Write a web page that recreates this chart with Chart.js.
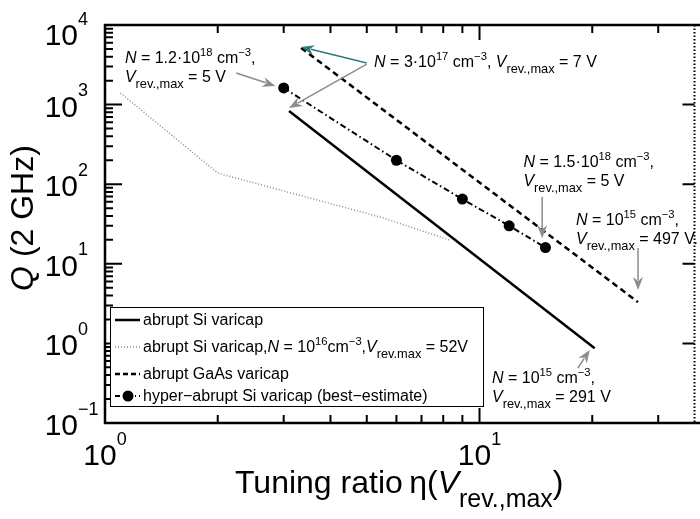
<!DOCTYPE html>
<html>
<head>
<meta charset="utf-8">
<script src="https://cdn.jsdelivr.net/npm/chart.js@4"></script>
<style>
  body { margin: 0; background: #fff; }
  canvas { display: block; }
</style>
</head>
<body>
<canvas id="qChart" width="700" height="519"></canvas>
<script>
// abrupt Si varicap (solid)
const siX = [3.1, 20.3];
const siQ = [830, 0.87];
// abrupt Si varicap, N = 1e16 cm^-3 (dotted)
const si16X = [1.1, 2.0, 5.5, 8.3];
const si16Q = [1400, 138, 38, 20];
// abrupt GaAs varicap (dashed)
const gaasX = [3.34, 26.5];
const gaasQ = [5150, 3.3];
// hyper-abrupt Si varicap (best-estimate)
const hyperX = [3, 6, 9, 12, 15];
const hyperQ = [1620, 200, 65, 30, 16];

const xDecades = [0, 1];
const yDecades = [-1, 0, 1, 2, 3, 4];
const xMinor = [2, 3, 4, 5, 6, 7, 8, 9, 20, 30];

const FONT = '"Liberation Sans", Arial, Helvetica, sans-serif';
const GREY = "#8c8c8c";
const TEAL = "#2e7b7b";

const pts = (xs, ys) => xs.map((x, i) => ({ x: x, y: ys[i] }));

// draw text runs with italic / superscript / subscript pieces
function rich(ctx, x, y, segs, size, o, measureOnly) {
  o = Object.assign({ sup: 0.7, raise: 0.42, sub: 0.8, drop: 0.38 }, o || {});
  let cx = x;
  segs.forEach(([t, k]) => {
    let fs = size, dy = 0, st = "";
    if (k === "i") st = "italic ";
    if (k === "u") { fs = size * o.sup; dy = -size * o.raise; }
    if (k === "d") { fs = size * o.sub; dy = size * o.drop; }
    ctx.font = st + fs + "px " + FONT;
    if (!measureOnly) ctx.fillText(t, cx, y + dy);
    cx += ctx.measureText(t).width;
  });
  return cx - x;
}

function arrow(ctx, x1, y1, x2, y2, color) {
  const a = Math.atan2(y2 - y1, x2 - x1);
  const L = 13, W = 5;
  ctx.save();
  ctx.strokeStyle = color;
  ctx.fillStyle = color;
  ctx.lineWidth = 1.5;
  ctx.setLineDash([]);
  ctx.beginPath();
  ctx.moveTo(x1, y1);
  ctx.lineTo(x2 - Math.cos(a) * (L - 3), y2 - Math.sin(a) * (L - 3));
  ctx.stroke();
  ctx.translate(x2, y2);
  ctx.rotate(a);
  ctx.beginPath();
  ctx.moveTo(0, 0);
  ctx.lineTo(-L, -W);
  ctx.lineTo(-L + 4, 0);
  ctx.lineTo(-L, W);
  ctx.closePath();
  ctx.fill();
  ctx.restore();
}

const Nline = (n, e) => [["N", "i"], [" = " + n + "10", "n"], [e, "u"], [" cm", "n"], ["\u22123", "u"], [",", "n"]];
const Vline = (v) => [["V", "i"], ["rev.,max", "d"], [" = " + v, "n"]];

// annotations: text anchor and arrows in data coordinates
const notes = [
  { x: 1.13, y: 3335, lines: [Nline("1.2\u00b7", "18"), Vline("5 V")] },
  { x: 5.23, y: 2965, lines: [Nline("3\u00b7", "17").slice(0, 5).concat([[", ", "n"], ["V", "i"], ["rev.,max", "d"], [" = 7 V", "n"]])] },
  { x: 13.1, y: 164, lines: [Nline("1.5\u00b7", "18"), Vline("5 V")] },
  { x: 18.1, y: 30.7, lines: [Nline("", "15"), Vline("497 V.")] },
  { x: 10.8, y: 0.318, lines: [Nline("", "15"), Vline("291 V")] }
];
const arrows = [
  [2.24, 2495, 2.85, 1714, GREY],
  [5.0, 3335, 3.34, 5295, TEAL],
  [5.0, 3220, 3.1, 906, GREY],
  [14.7, 69, 14.7, 21, GREY],
  [26.5, 15.8, 26.5, 4.69, GREY],
  [18.3, 0.491, 19.7, 0.826, GREY]
];

const legendItems = [
  { segs: [["abrupt Si varicap", "n"]], color: "#000", width: 2.5, dash: [] },
  { segs: [["abrupt Si varicap,", "n"], ["N", "i"], [" = 10", "n"], ["16", "u"], ["cm", "n"], ["\u22123", "u"], [",", "n"], ["V", "i"], ["rev.max", "d"], [" = 52V", "n"]], color: GREY, width: 1.5, dash: [1, 2] },
  { segs: [["abrupt GaAs varicap", "n"]], color: "#000", width: 2.5, dash: [5, 3] },
  { segs: [["hyper\u2212abrupt Si varicap (best\u2212estimate)", "n"]], color: "#000", width: 2, dash: [5, 3, 1, 3], marker: true }
];

const decorations = {
  id: "decorations",
  afterDraw(chart) {
    const ctx = chart.ctx;
    const { left, right, top, bottom } = chart.chartArea;
    const xs = chart.scales.x, ys = chart.scales.y;
    ctx.save();
    ctx.fillStyle = "#000";
    ctx.strokeStyle = "#000";
    ctx.textBaseline = "alphabetic";
    ctx.textAlign = "left";

    // ticks
    ctx.lineWidth = 2;
    ctx.beginPath();
    xDecades.forEach(e => {
      const px = xs.getPixelForValue(Math.pow(10, e));
      if (px <= left + 1) return;
      ctx.moveTo(px, bottom); ctx.lineTo(px, bottom - 15);
      ctx.moveTo(px, top); ctx.lineTo(px, top + 15);
    });
    xMinor.forEach(v => {
      const px = xs.getPixelForValue(v);
      ctx.moveTo(px, bottom); ctx.lineTo(px, bottom - 8);
      ctx.moveTo(px, top); ctx.lineTo(px, top + 8);
    });
    yDecades.forEach(e => {
      const py = ys.getPixelForValue(Math.pow(10, e));
      ctx.moveTo(left, py); ctx.lineTo(left + 17, py);
      if (e < 4) {
        for (let m = 2; m <= 9; m++) {
          const pm = ys.getPixelForValue(m * Math.pow(10, e));
          ctx.moveTo(left, pm); ctx.lineTo(left + 8, pm);
        }
      }
      if (py > top + 2 && py < bottom - 2) {
        ctx.moveTo(right, py); ctx.lineTo(right - 12, py);
      }
    });
    ctx.stroke();

    // right axis (dotted, cut by the image edge)
    ctx.lineWidth = 2;
    ctx.setLineDash([1.5, 2]);
    ctx.beginPath();
    ctx.moveTo(right, top); ctx.lineTo(right, bottom);
    ctx.stroke();
    ctx.setLineDash([]);

    // frame
    ctx.lineWidth = 2.5;
    ctx.beginPath();
    ctx.moveTo(chart.width, top); ctx.lineTo(left, top);
    ctx.lineTo(left, bottom); ctx.lineTo(chart.width, bottom);
    ctx.stroke();

    // tick labels
    const tOpt = { sup: 0.6, raise: 0.68 };
    yDecades.forEach(e => {
      const py = ys.getPixelForValue(Math.pow(10, e));
      const base = Math.max(py + 12, top + 20);
      ctx.font = "30px " + FONT;
      const w10 = ctx.measureText("10").width;
      rich(ctx, left - 27 - w10, base, [["10", "n"], [String(e).replace("-", "\u2212"), "u"]], 30, tOpt);
    });
    xDecades.forEach(e => {
      const px = xs.getPixelForValue(Math.pow(10, e));
      const segs = [["10", "n"], [String(e), "u"]];
      const w = rich(ctx, 0, 0, segs, 30, tOpt, true);
      rich(ctx, px - w / 2, bottom + 42, segs, 30, tOpt);
    });

    // axis titles
    rich(ctx, 235, 493, [["Tuning ratio\u2009", "n"], ["\u03b7(", "n"], ["V", "i"], ["rev.,max", "d"], [")", "n"]], 32, { sub: 0.78, drop: 0.45 });
    ctx.save();
    ctx.translate(33, 218);
    ctx.rotate(-Math.PI / 2);
    const ySegs = [["Q", "i"], [" (2 GHz)", "n"]];
    const yw = rich(ctx, 0, 0, ySegs, 32, null, true);
    rich(ctx, -yw / 2, 0, ySegs, 32);
    ctx.restore();

    // legend box
    const lx = left + 5, ly = 307, lw = 373, lh = 99;
    ctx.fillStyle = "#fff";
    ctx.fillRect(lx, ly, lw, lh);
    ctx.lineWidth = 1;
    ctx.strokeStyle = "#000";
    ctx.strokeRect(lx + 0.5, ly + 0.5, lw, lh);
    const rowBase = [18, 45, 72, 94];
    legendItems.forEach((it, i) => {
      const by = ly + rowBase[i];
      const cy = by - 5;
      ctx.save();
      ctx.strokeStyle = it.color;
      ctx.lineWidth = it.width;
      ctx.setLineDash(it.dash);
      ctx.beginPath();
      ctx.moveTo(lx + 5, cy); ctx.lineTo(lx + 30, cy);
      ctx.stroke();
      if (it.marker) {
        ctx.fillStyle = "#000";
        ctx.beginPath();
        ctx.arc(lx + 18, cy, 5.5, 0, Math.PI * 2);
        ctx.fill();
      }
      ctx.restore();
      ctx.fillStyle = "#000";
      rich(ctx, lx + 33, by, it.segs, 16);
    });

    // annotations
    ctx.fillStyle = "#000";
    notes.forEach(n => {
      const px = xs.getPixelForValue(n.x);
      const py = ys.getPixelForValue(n.y);
      n.lines.forEach((ln, i) => rich(ctx, px, py + i * 19, ln, 16));
    });
    arrows.forEach(a => {
      arrow(ctx, xs.getPixelForValue(a[0]), ys.getPixelForValue(a[1]),
        xs.getPixelForValue(a[2]), ys.getPixelForValue(a[3]), a[4]);
    });
    ctx.restore();
  }
};

new Chart(document.getElementById("qChart").getContext("2d"), {
  type: "line",
  data: {
    datasets: [
      { label: "abrupt Si varicap", data: pts(siX, siQ), borderColor: "#000", borderWidth: 2.5, pointRadius: 0 },
      { label: "abrupt Si varicap, N = 1e16", data: pts(si16X, si16Q), borderColor: GREY, borderWidth: 1.5, borderDash: [1, 2], pointRadius: 0 },
      { label: "abrupt GaAs varicap", data: pts(gaasX, gaasQ), borderColor: "#000", borderWidth: 2.5, borderDash: [6, 4], pointRadius: 0 },
      { label: "hyper-abrupt Si varicap (best-estimate)", data: pts(hyperX, hyperQ), borderColor: "#000", borderWidth: 2, borderDash: [6, 3, 1.5, 3], pointRadius: 5.5, pointBackgroundColor: "#000", pointBorderWidth: 0 }
    ]
  },
  options: {
    responsive: false,
    animation: false,
    layout: { padding: { left: 105, top: 25, right: 3, bottom: 96 } },
    plugins: { legend: { display: false }, tooltip: { enabled: false } },
    scales: {
      x: { type: "logarithmic", min: 1, max: 37.5, display: false },
      y: { type: "logarithmic", min: 0.1, max: 10000, display: false }
    }
  },
  plugins: [decorations]
});
</script>
</body>
</html>
